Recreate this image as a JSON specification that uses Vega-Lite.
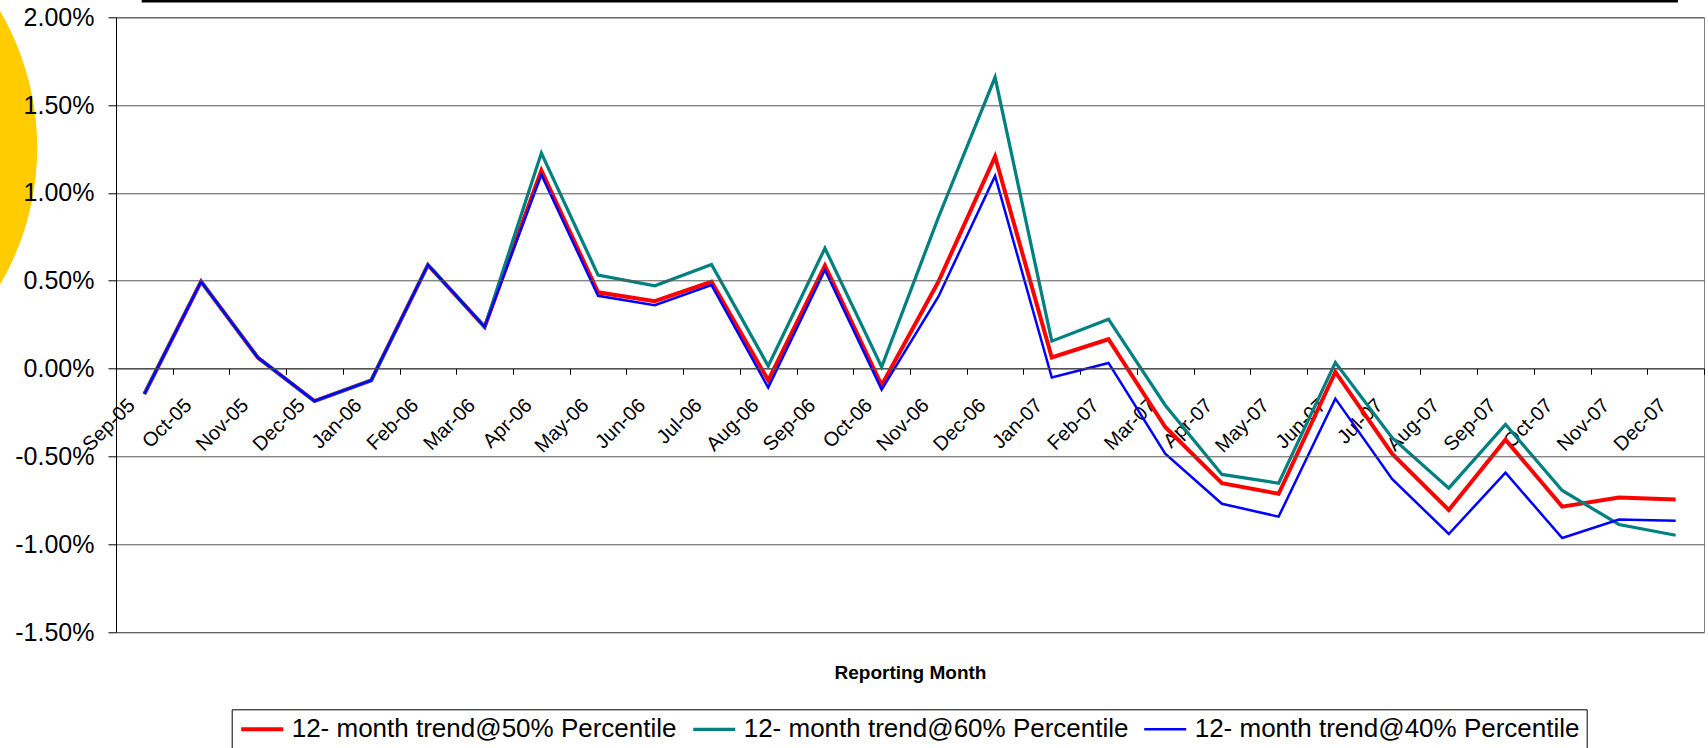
{
  "$schema": "https://vega.github.io/schema/vega-lite/v6.json",
  "width": 1588,
  "height": 614.7,
  "autosize": {"type": "none"},
  "padding": {"left": 116, "top": 17.3, "right": 4, "bottom": 116},
  "background": "white",
  "config": {"view": {"stroke": "#808080", "strokeWidth": 1}, "font": "Liberation Sans"},
  "layer": [
    {
      "data": {"values": [{}]},
      "mark": {"type": "point", "shape": "circle", "filled": true, "color": "#FFCC00", "opacity": 1, "size": 291600, "strokeWidth": 0},
      "encoding": {
        "x": {"datum": -6.65, "type": "quantitative", "scale": {"domain": [-0.5, 27.5], "nice": false, "zero": false}, "axis": null},
        "y": {"datum": 1.257, "type": "quantitative", "scale": {"domain": [-1.5, 2], "nice": false, "zero": false}, "title": null}
      }
    },
    {
      "data": {"values": [{}]},
      "mark": {"type": "rule", "color": "black", "strokeWidth": 3},
      "encoding": {
        "x": {"datum": -0.047, "type": "quantitative", "scale": {"domain": [-0.5, 27.5], "nice": false, "zero": false}, "axis": null},
        "x2": {"datum": 27.04},
        "y": {"datum": 2.093, "type": "quantitative", "scale": {"domain": [-1.5, 2], "nice": false, "zero": false}, "title": null}
      }
    },
    {
      "data": {"values": [
        {"series": "12- month trend@50% Percentile", "month": "Sep-05", "pct": -0.145},
        {"series": "12- month trend@50% Percentile", "month": "Oct-05", "pct": 0.495},
        {"series": "12- month trend@50% Percentile", "month": "Nov-05", "pct": 0.063},
        {"series": "12- month trend@50% Percentile", "month": "Dec-05", "pct": -0.185},
        {"series": "12- month trend@50% Percentile", "month": "Jan-06", "pct": -0.067},
        {"series": "12- month trend@50% Percentile", "month": "Feb-06", "pct": 0.59},
        {"series": "12- month trend@50% Percentile", "month": "Mar-06", "pct": 0.237},
        {"series": "12- month trend@50% Percentile", "month": "Apr-06", "pct": 1.128},
        {"series": "12- month trend@50% Percentile", "month": "May-06", "pct": 0.434},
        {"series": "12- month trend@50% Percentile", "month": "Jun-06", "pct": 0.384},
        {"series": "12- month trend@50% Percentile", "month": "Jul-06", "pct": 0.494},
        {"series": "12- month trend@50% Percentile", "month": "Aug-06", "pct": -0.067},
        {"series": "12- month trend@50% Percentile", "month": "Sep-06", "pct": 0.586},
        {"series": "12- month trend@50% Percentile", "month": "Oct-06", "pct": -0.095},
        {"series": "12- month trend@50% Percentile", "month": "Nov-06", "pct": 0.494},
        {"series": "12- month trend@50% Percentile", "month": "Dec-06", "pct": 1.207},
        {"series": "12- month trend@50% Percentile", "month": "Jan-07", "pct": 0.063},
        {"series": "12- month trend@50% Percentile", "month": "Feb-07", "pct": 0.167},
        {"series": "12- month trend@50% Percentile", "month": "Mar-07", "pct": -0.333},
        {"series": "12- month trend@50% Percentile", "month": "Apr-07", "pct": -0.653},
        {"series": "12- month trend@50% Percentile", "month": "May-07", "pct": -0.713},
        {"series": "12- month trend@50% Percentile", "month": "Jun-07", "pct": -0.019},
        {"series": "12- month trend@50% Percentile", "month": "Jul-07", "pct": -0.485},
        {"series": "12- month trend@50% Percentile", "month": "Aug-07", "pct": -0.805},
        {"series": "12- month trend@50% Percentile", "month": "Sep-07", "pct": -0.405},
        {"series": "12- month trend@50% Percentile", "month": "Oct-07", "pct": -0.786},
        {"series": "12- month trend@50% Percentile", "month": "Nov-07", "pct": -0.734},
        {"series": "12- month trend@50% Percentile", "month": "Dec-07", "pct": -0.746},
        {"series": "12- month trend@60% Percentile", "month": "Sep-05", "pct": -0.145},
        {"series": "12- month trend@60% Percentile", "month": "Oct-05", "pct": 0.495},
        {"series": "12- month trend@60% Percentile", "month": "Nov-05", "pct": 0.063},
        {"series": "12- month trend@60% Percentile", "month": "Dec-05", "pct": -0.185},
        {"series": "12- month trend@60% Percentile", "month": "Jan-06", "pct": -0.067},
        {"series": "12- month trend@60% Percentile", "month": "Feb-06", "pct": 0.59},
        {"series": "12- month trend@60% Percentile", "month": "Mar-06", "pct": 0.237},
        {"series": "12- month trend@60% Percentile", "month": "Apr-06", "pct": 1.227},
        {"series": "12- month trend@60% Percentile", "month": "May-06", "pct": 0.532},
        {"series": "12- month trend@60% Percentile", "month": "Jun-06", "pct": 0.471},
        {"series": "12- month trend@60% Percentile", "month": "Jul-06", "pct": 0.593},
        {"series": "12- month trend@60% Percentile", "month": "Aug-06", "pct": 0.015},
        {"series": "12- month trend@60% Percentile", "month": "Sep-06", "pct": 0.685},
        {"series": "12- month trend@60% Percentile", "month": "Oct-06", "pct": 0.009},
        {"series": "12- month trend@60% Percentile", "month": "Nov-06", "pct": 0.86},
        {"series": "12- month trend@60% Percentile", "month": "Dec-06", "pct": 1.658},
        {"series": "12- month trend@60% Percentile", "month": "Jan-07", "pct": 0.156},
        {"series": "12- month trend@60% Percentile", "month": "Feb-07", "pct": 0.281},
        {"series": "12- month trend@60% Percentile", "month": "Mar-07", "pct": -0.209},
        {"series": "12- month trend@60% Percentile", "month": "Apr-07", "pct": -0.603},
        {"series": "12- month trend@60% Percentile", "month": "May-07", "pct": -0.653},
        {"series": "12- month trend@60% Percentile", "month": "Jun-07", "pct": 0.034},
        {"series": "12- month trend@60% Percentile", "month": "Jul-07", "pct": -0.394},
        {"series": "12- month trend@60% Percentile", "month": "Aug-07", "pct": -0.681},
        {"series": "12- month trend@60% Percentile", "month": "Sep-07", "pct": -0.318},
        {"series": "12- month trend@60% Percentile", "month": "Oct-07", "pct": -0.694},
        {"series": "12- month trend@60% Percentile", "month": "Nov-07", "pct": -0.888},
        {"series": "12- month trend@60% Percentile", "month": "Dec-07", "pct": -0.949},
        {"series": "12- month trend@40% Percentile", "month": "Sep-05", "pct": -0.145},
        {"series": "12- month trend@40% Percentile", "month": "Oct-05", "pct": 0.495},
        {"series": "12- month trend@40% Percentile", "month": "Nov-05", "pct": 0.063},
        {"series": "12- month trend@40% Percentile", "month": "Dec-05", "pct": -0.185},
        {"series": "12- month trend@40% Percentile", "month": "Jan-06", "pct": -0.067},
        {"series": "12- month trend@40% Percentile", "month": "Feb-06", "pct": 0.59},
        {"series": "12- month trend@40% Percentile", "month": "Mar-06", "pct": 0.237},
        {"series": "12- month trend@40% Percentile", "month": "Apr-06", "pct": 1.103},
        {"series": "12- month trend@40% Percentile", "month": "May-06", "pct": 0.414},
        {"series": "12- month trend@40% Percentile", "month": "Jun-06", "pct": 0.361},
        {"series": "12- month trend@40% Percentile", "month": "Jul-06", "pct": 0.475},
        {"series": "12- month trend@40% Percentile", "month": "Aug-06", "pct": -0.108},
        {"series": "12- month trend@40% Percentile", "month": "Sep-06", "pct": 0.561},
        {"series": "12- month trend@40% Percentile", "month": "Oct-06", "pct": -0.12},
        {"series": "12- month trend@40% Percentile", "month": "Nov-06", "pct": 0.409},
        {"series": "12- month trend@40% Percentile", "month": "Dec-06", "pct": 1.097},
        {"series": "12- month trend@40% Percentile", "month": "Jan-07", "pct": -0.051},
        {"series": "12- month trend@40% Percentile", "month": "Feb-07", "pct": 0.032},
        {"series": "12- month trend@40% Percentile", "month": "Mar-07", "pct": -0.485},
        {"series": "12- month trend@40% Percentile", "month": "Apr-07", "pct": -0.77},
        {"series": "12- month trend@40% Percentile", "month": "May-07", "pct": -0.843},
        {"series": "12- month trend@40% Percentile", "month": "Jun-07", "pct": -0.171},
        {"series": "12- month trend@40% Percentile", "month": "Jul-07", "pct": -0.628},
        {"series": "12- month trend@40% Percentile", "month": "Aug-07", "pct": -0.942},
        {"series": "12- month trend@40% Percentile", "month": "Sep-07", "pct": -0.593},
        {"series": "12- month trend@40% Percentile", "month": "Oct-07", "pct": -0.965},
        {"series": "12- month trend@40% Percentile", "month": "Nov-07", "pct": -0.86},
        {"series": "12- month trend@40% Percentile", "month": "Dec-07", "pct": -0.867}
      ]},
      "mark": {"type": "line", "strokeJoin": "miter"},
      "encoding": {
        "x": {
          "field": "month", "type": "ordinal",
          "sort": ["Sep-05","Oct-05","Nov-05","Dec-05","Jan-06","Feb-06","Mar-06","Apr-06","May-06","Jun-06","Jul-06","Aug-06","Sep-06","Oct-06","Nov-06","Dec-06","Jan-07","Feb-07","Mar-07","Apr-07","May-07","Jun-07","Jul-07","Aug-07","Sep-07","Oct-07","Nov-07","Dec-07"],
          "scale": {"type": "band", "paddingInner": 0, "paddingOuter": 0},
          "title": "Reporting Month",
          "axis": {
            "orient": "bottom", "offset": -263.7, "tickBand": "extent", "grid": false,
            "labelAngle": -45, "labelAlign": "right", "labelBaseline": "middle",
            "labelOffset": -13, "labelPadding": 27.5, "tickSize": 6,
            "tickColor": "black", "domainColor": "black", "labelColor": "black",
            "labelFont": "Liberation Sans", "labelFontSize": 20, "labelOverlap": false, "labelBound": false,
            "titleFont": "Liberation Sans", "titleFontSize": 19, "titleFontWeight": "bold", "titleColor": "black",
            "titleY": 304.2, "titleX": 794, "titleBaseline": "middle", "titleAlign": "center", "titleAnchor": null
          }
        },
        "y": {
          "field": "pct", "type": "quantitative",
          "scale": {"domain": [-1.5, 2], "nice": false, "zero": false},
          "title": null,
          "axis": {
            "values": [-1.5, -1, -0.5, 0, 0.5, 1, 1.5, 2],
            "labelExpr": "replace(format(datum.value, '.2f'), '\u2212', '-') + '%'",
            "tickSize": 8, "tickColor": "black", "domainColor": "black", "labelColor": "black",
            "labelFont": "Liberation Sans", "labelFontSize": 25, "labelPadding": 14,
            "grid": true, "gridColor": "#555555", "gridWidth": 1, "gridOpacity": 1,
            "labelOverlap": false, "labelFlush": false, "zindex": 1
          }
        },
        "color": {
          "field": "series", "type": "nominal",
          "scale": {
            "domain": ["12- month trend@50% Percentile", "12- month trend@60% Percentile", "12- month trend@40% Percentile"],
            "range": ["#FF0000", "#008080", "#0000FF"]
          },
          "legend": {
            "title": null, "orient": "none", "legendX": 115.7, "legendY": 692, "direction": "horizontal",
            "symbolType": "M-1,0H3", "symbolSize": 441, "symbolStrokeWidth": 2.5,
            "labelFont": "Liberation Sans", "labelFontSize": 26, "labelColor": "black", "labelLimit": 1000,
            "labelOffset": 27, "columnPadding": 10, "padding": 7,
            "strokeColor": "black", "fillColor": "white",
            "encode": {"symbols": {"update": {"strokeWidth": {"signal": "datum.value === '12- month trend@50% Percentile' ? 4 : 2.5"}}}}
          }
        },
        "strokeWidth": {
          "field": "series", "type": "ordinal",
          "scale": {
            "domain": ["12- month trend@50% Percentile", "12- month trend@60% Percentile", "12- month trend@40% Percentile"],
            "range": [4, 2.5, 2.5]
          },
          "legend": null
        }
      }
    }
  ],
  "resolve": {"scale": {"x": "independent"}}
}
